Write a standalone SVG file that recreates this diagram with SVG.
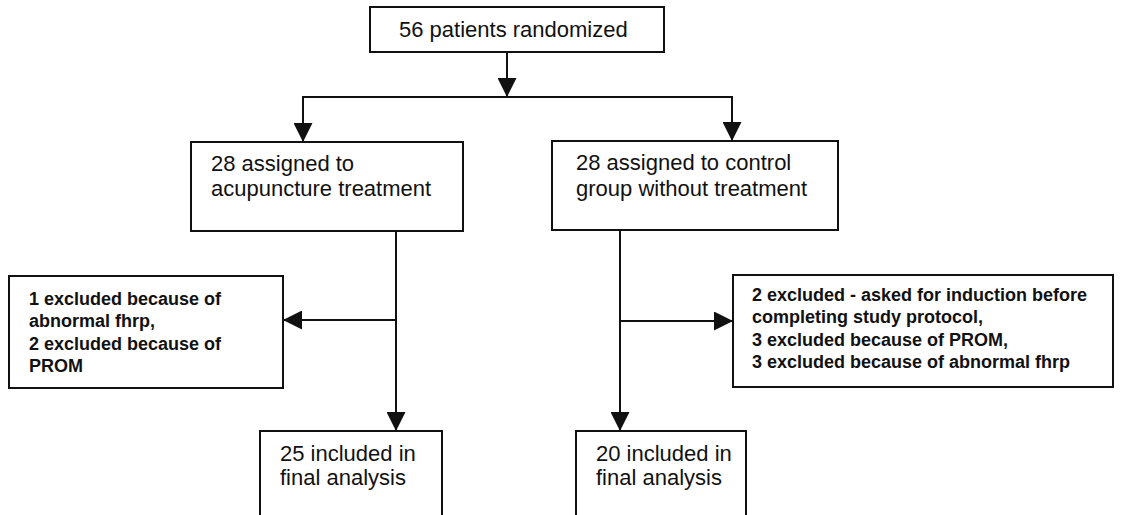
<svg xmlns="http://www.w3.org/2000/svg" width="1137" height="515" viewBox="0 0 1137 515">
<defs>
<marker id="arr" viewBox="0 0 20 20" refX="20" refY="10" markerWidth="19" markerHeight="19" markerUnits="userSpaceOnUse" orient="auto">
<path d="M0,0 L20,10 L0,20 Z" fill="#111"/>
</marker>
</defs>
<style>
.box{fill:#fff;stroke:#111;stroke-width:2}
.t{font-family:"Liberation Sans",Arial,sans-serif;font-size:22px;fill:#111}
.b{font-family:"Liberation Sans",Arial,sans-serif;font-size:18px;font-weight:bold;fill:#111}
.c{fill:none;stroke:#111;stroke-width:2}
</style>
<rect width="1137" height="515" fill="#fff"/>
<g id="connectors">
<line class="c" x1="507" y1="52" x2="507" y2="97" marker-end="url(#arr)"/>
<line class="c" x1="302" y1="97" x2="733" y2="97"/>
<line class="c" x1="303" y1="97" x2="303" y2="142" marker-end="url(#arr)"/>
<line class="c" x1="732" y1="97" x2="732" y2="141" marker-end="url(#arr)"/>
<line class="c" x1="396" y1="231" x2="396" y2="431" marker-end="url(#arr)"/>
<line class="c" x1="396" y1="320" x2="283" y2="320" marker-end="url(#arr)"/>
<line class="c" x1="620" y1="230" x2="620" y2="431" marker-end="url(#arr)"/>
<line class="c" x1="620" y1="321" x2="733" y2="321" marker-end="url(#arr)"/>
</g>
<g id="randomized">
<rect class="box" x="370" y="7" width="294" height="45"/>
<text class="t" x="399" y="37">56 patients randomized</text>
</g>
<g id="acupuncture">
<rect class="box" x="191" y="142" width="272" height="89"/>
<text class="t" x="211" y="171">28 assigned to</text>
<text class="t" x="211" y="196">acupuncture treatment</text>
</g>
<g id="control">
<rect class="box" x="552" y="141" width="286" height="89"/>
<text class="t" x="576" y="170">28 assigned to control</text>
<text class="t" x="576" y="196">group without treatment</text>
</g>
<g id="excluded-acupuncture">
<rect class="box" x="9" y="276" width="274" height="112"/>
<text class="b" x="29" y="305">1 excluded because of</text>
<text class="b" x="29" y="327">abnormal fhrp,</text>
<text class="b" x="29" y="350">2 excluded because of</text>
<text class="b" x="29" y="372">PROM</text>
</g>
<g id="excluded-control">
<rect class="box" x="733" y="275" width="380" height="112"/>
<text class="b" x="752" y="301">2 excluded - asked for induction before</text>
<text class="b" x="752" y="323">completing study protocol,</text>
<text class="b" x="752" y="346">3 excluded because of PROM,</text>
<text class="b" x="752" y="368">3 excluded because of abnormal fhrp</text>
</g>
<g id="final-acupuncture">
<rect class="box" x="260" y="431" width="182" height="100"/>
<text class="t" x="280" y="461">25 included in</text>
<text class="t" x="280" y="485">final analysis</text>
</g>
<g id="final-control">
<rect class="box" x="576" y="431" width="170" height="100"/>
<text class="t" x="596" y="461">20 included in</text>
<text class="t" x="596" y="485">final analysis</text>
</g>
</svg>
